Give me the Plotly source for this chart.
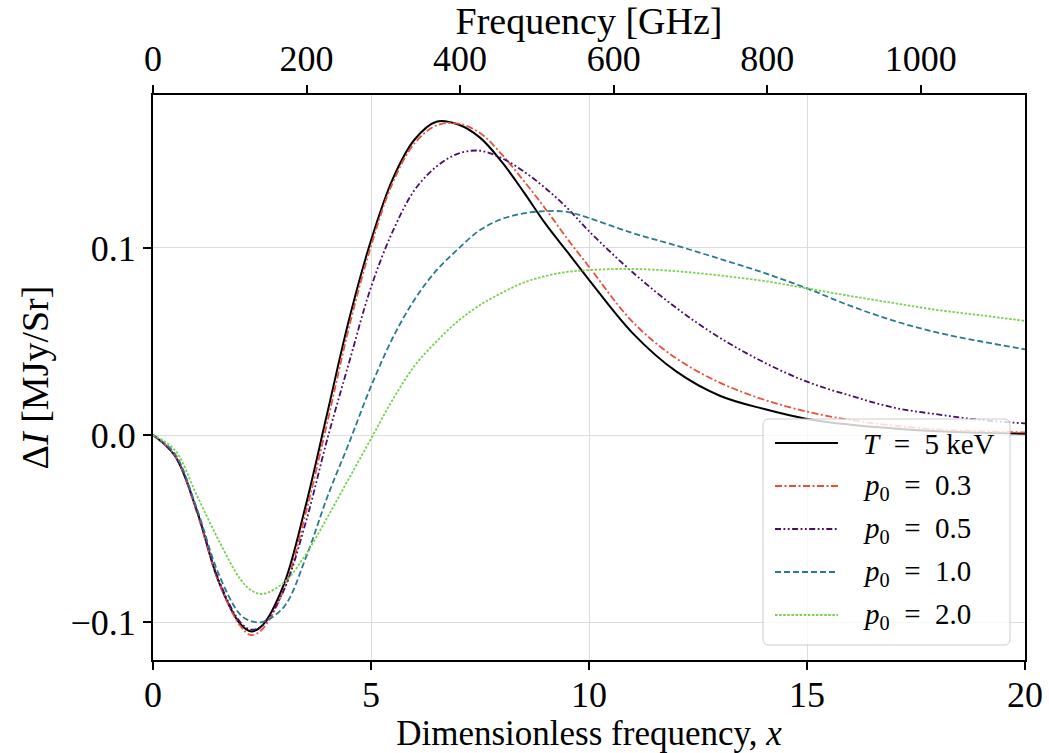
import plotly.graph_objects as go

# Dimensionless frequency grid shared by every curve
x_vals = [0, 0.5, 1, 1.5, 2, 2.25, 2.5, 3, 3.5, 4, 4.5, 5, 5.5, 6, 6.5, 7, 7.5,
          8, 8.5, 9, 9.5, 10, 11, 12, 13, 14, 15, 16, 17, 18, 19, 20]

# Intensity change [MJy/Sr]
dI_thermal = [0, -0.011, -0.040, -0.078, -0.101, -0.105, -0.102, -0.080, -0.038, 0.012,
              0.062, 0.104, 0.137, 0.158, 0.1675, 0.166, 0.159, 0.146, 0.130, 0.113,
              0.098, 0.083, 0.0545, 0.034, 0.021, 0.014, 0.0086, 0.0055, 0.0035, 0.002,
              0.0012, 0.0007]
dI_p03 = [0, -0.011, -0.041, -0.078, -0.102, -0.107, -0.104, -0.083, -0.042, 0.007,
          0.058, 0.101, 0.135, 0.156, 0.1655, 0.1665, 0.1615, 0.150, 0.136, 0.121,
          0.105, 0.090, 0.0605, 0.041, 0.028, 0.019, 0.0125, 0.008, 0.005, 0.003,
          0.002, 0.0014]
dI_p05 = [0, -0.011, -0.040, -0.077, -0.100, -0.104, -0.102, -0.083, -0.047, -0.002,
          0.039, 0.079, 0.109, 0.131, 0.1435, 0.1505, 0.152, 0.148, 0.141, 0.132,
          0.1214, 0.109, 0.087, 0.068, 0.052, 0.039, 0.0285, 0.021, 0.0146, 0.011,
          0.008, 0.0062]
dI_p10 = [0, -0.010, -0.039, -0.074, -0.096, -0.0995, -0.1000, -0.092, -0.066, -0.033,
          -0.004, 0.026, 0.052, 0.0725, 0.088, 0.0995, 0.1096, 0.1155, 0.1185, 0.1197,
          0.1193, 0.116, 0.108, 0.1013, 0.0942, 0.0868, 0.0784, 0.069, 0.061, 0.0547,
          0.050, 0.0458]
dI_p20 = [0, -0.008, -0.032, -0.056, -0.077, -0.083, -0.085, -0.079, -0.064, -0.044,
          -0.023, -0.002, 0.019, 0.037, 0.050, 0.061, 0.0695, 0.076, 0.0815, 0.085,
          0.0872, 0.0882, 0.0888, 0.0876, 0.0853, 0.0824, 0.0784, 0.0743, 0.0705,
          0.0668, 0.064, 0.061]

EQ = "\u2002=\u2002"
labels = ["<i>T</i>" + EQ + "5 keV", "<i>p</i><sub>0</sub>" + EQ + "0.3",
          "<i>p</i><sub>0</sub>" + EQ + "0.5", "<i>p</i><sub>0</sub>" + EQ + "1.0",
          "<i>p</i><sub>0</sub>" + EQ + "2.0"]
series = [dI_thermal, dI_p03, dI_p05, dI_p10, dI_p20]
colors = ["#000000", "#e8503a", "#4a0c6b", "#2a7a8e", "#7ad151"]
dashes = ["solid", "7px,2.5px,2px,2.5px", "6px,2.5px,1.8px,2.5px,1.8px,2.5px",
          "6px,3px", "2.5px,1.6px"]
widths = [2.0, 1.8, 1.8, 1.8, 1.8]

ghz_ticks = [0, 200, 400, 600, 800, 1000]
X_PER_GHZ = 0.017608  # h / (k T_CMB)
X_MAX = 20
Y_RANGE = [-0.1203, 0.1818]

FONT = "Liberation Serif"

fig = go.Figure()
for lab, ys, c, d, w in zip(labels, series, colors, dashes, widths):
    fig.add_trace(go.Scatter(x=x_vals, y=ys, mode="lines", name=lab,
                             line=dict(color=c, dash=d, width=w, shape="spline", smoothing=1.0),
                             showlegend=False))

# invisible trace carrying the frequency axis
fig.add_trace(go.Scatter(x=[0, X_MAX / X_PER_GHZ], y=[0, 0], xaxis="x2", mode="lines",
                         line=dict(width=0), hoverinfo="skip", showlegend=False))

# legend panel
L, R, B, T = 153, 1025, 660, 95
def px(xp):
    return (xp - L) / (R - L)
def py(yp):
    return (B - yp) / (B - T)

x0, x1, y0, y1, rad = px(763), px(1010), py(645), py(419), 6
rx, ry = rad / (R - L), rad / (B - T)
path = (f"M {x0+rx},{y1} L {x1-rx},{y1} Q {x1},{y1} {x1},{y1-ry} "
        f"L {x1},{y0+ry} Q {x1},{y0} {x1-rx},{y0} L {x0+rx},{y0} "
        f"Q {x0},{y0} {x0},{y0+ry} L {x0},{y1-ry} Q {x0},{y1} {x0+rx},{y1} Z")
shapes = [dict(type="path", xref="paper", yref="paper", path=path,
               fillcolor="rgba(255,255,255,0.8)", line=dict(color="#cccccc", width=1),
               layer="above")]
annotations = []
row_y = [443, 486, 529, 572, 615]
for lab, c, d, w, ry_ in zip(labels, colors, dashes, widths, row_y):
    shapes.append(dict(type="line", xref="paper", yref="paper", x0=px(775), x1=px(838),
                       y0=py(ry_), y1=py(ry_), line=dict(color=c, dash=d, width=w),
                       layer="above"))
    annotations.append(dict(xref="paper", yref="paper", x=px(861), y=py(ry_ + 1),
                            text=lab, showarrow=False, xanchor="left", yanchor="middle",
                            font=dict(family=FONT, size=29, color="black")))

axis_common = dict(showline=True, linecolor="black", linewidth=2, ticks="outside",
                   ticklen=8, tickwidth=1.5, tickcolor="black", automargin=False,
                   tickfont=dict(family=FONT, size=36, color="black"))

fig.update_layout(
    width=1049, height=753,
    margin=dict(l=L, r=1049 - R, t=T, b=753 - B),
    paper_bgcolor="white", plot_bgcolor="white",
    xaxis=dict(range=[0, X_MAX], tickvals=[0, 5, 10, 15, 20], showgrid=True,
               gridcolor="#dcdcdc", gridwidth=1, zeroline=False, ticklabelstandoff=-6,
               title=dict(text="Dimensionless frequency, <i>x</i>", standoff=0,
                          font=dict(family=FONT, size=35, color="black")),
               **axis_common),
    xaxis2=dict(range=[0, X_MAX / X_PER_GHZ], overlaying="x", side="top", anchor="y",
                tickvals=ghz_ticks, showgrid=False, zeroline=False,
                title=dict(text="Frequency [GHz]", standoff=4,
                           font=dict(family=FONT, size=38, color="black")),
                **axis_common),
    yaxis=dict(range=Y_RANGE, tickvals=[-0.1, 0.0, 0.1], tickformat=".1f",
               showgrid=True, gridcolor="#dcdcdc", gridwidth=1, zeroline=False,
               mirror=True,
               title=dict(text="Δ<i>I</i> [MJy/Sr]", standoff=10,
                          font=dict(family=FONT, size=38, color="black")),
               **axis_common),
    shapes=shapes, annotations=annotations,
)

fig.write_html("out.html")
